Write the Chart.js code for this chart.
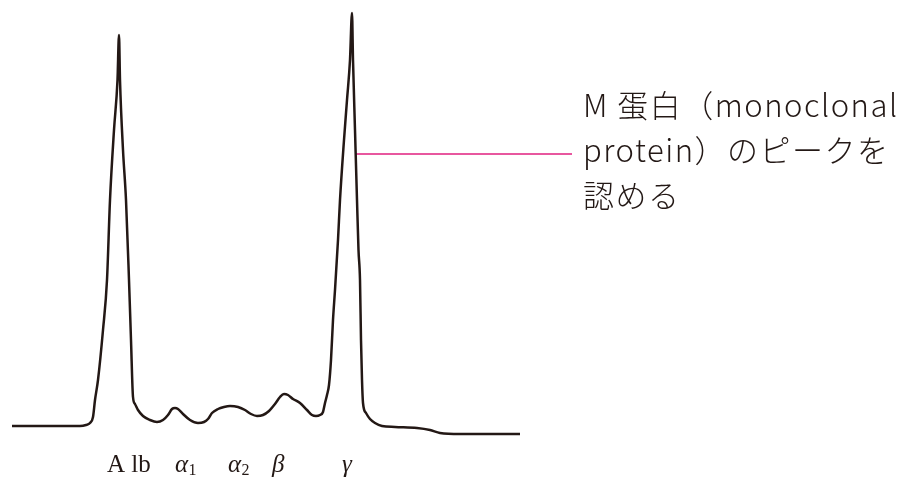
<!DOCTYPE html>
<html lang="ja">
<head>
<meta charset="utf-8">
<title>M蛋白のピーク</title>
<script src="https://cdn.jsdelivr.net/npm/chart.js@4"></script>
<style>
    html, body { margin: 0; padding: 0; background: #fff; }
    #wrap { width: 908px; height: 487px; position: relative; }
</style>
</head>
<body>
<div id="wrap"><canvas id="chart"></canvas></div>
<script>
// densitometer trace, position along the strip vs. signal height
const curveX = [12, 60, 80, 86, 90, 93, 95, 98, 103, 107, 110, 114, 117.5, 119, 120, 123, 126, 129, 131, 133,
    135, 138, 143, 150, 157, 163, 168, 172, 175, 178, 183, 190, 198, 204, 208, 212, 218, 224, 230, 238,
    245, 251, 257, 263, 269, 275, 280, 284, 288, 293, 300, 307, 312, 316, 320, 323, 325, 327, 329, 331,
    333, 335, 338, 340, 344, 347, 350, 352, 353, 355, 357, 358.5, 360, 361, 362, 363, 366, 370, 375, 382,
    395, 417, 430, 440, 460, 520];
const curveY = [61, 61, 61, 62, 64, 70, 87, 107, 157, 207, 287, 357, 407, 452, 407, 337, 287, 207, 147, 90,
    83, 77, 71, 67, 65, 67, 72, 78, 79, 78, 73, 67, 64, 65, 68, 74, 78, 80, 81, 80,
    77, 73, 71, 72, 76, 83, 90, 93, 92, 88, 84, 77, 72, 71, 72, 75, 84, 92, 102, 127,
    167, 197, 247, 287, 347, 387, 427, 474, 427, 357, 287, 237, 207, 147, 107, 84, 74, 68, 64, 61,
    60, 59, 57, 54, 53, 53];

// fraction labels under the trace
const fractionLabels = ['A lb', 'α', 'α', 'β', 'γ'];
const fractionSubs = ['', '1', '2', '', ''];
const fractionX = [107, 175, 228, 272, 342];

// leader line to the γ peak
const leaderX = [356, 572];
const leaderY = [333, 333];

const noteLines = ['M 蛋白（monoclonal', 'protein）のピークを', '認める'];

const ink = '#231815';

const labelPlugin = {
    id: 'labels',
    afterDraw(chart) {
        const ctx = chart.ctx;
        const xs = chart.scales.x;
        const ys = chart.scales.y;
        ctx.save();
        ctx.fillStyle = ink;
        ctx.textBaseline = 'alphabetic';
        ctx.textAlign = 'left';

        const base = ys.getPixelForValue(15);
        fractionLabels.forEach((lab, i) => {
            const x = xs.getPixelForValue(fractionX[i]);
            ctx.font = i === 0 ? '25px "Liberation Serif"' : 'italic 25px "Liberation Serif"';
            ctx.fillText(lab, x, base);
            if (fractionSubs[i]) {
                const w = ctx.measureText(lab).width;
                ctx.font = '16px "Liberation Serif"';
                ctx.fillText(fractionSubs[i], x + w + 0.5, base + 3);
            }
        });

        ctx.font = '300 31px "Noto Sans CJK JP"';
        ctx.letterSpacing = '1.5px';
        const tx = xs.getPixelForValue(583);
        noteLines.forEach((line, i) => {
            ctx.fillText(line, tx, 117 + i * 45);
        });
        ctx.restore();
    }
};

new Chart(document.getElementById('chart'), {
    type: 'line',
    data: {
        datasets: [{
            data: curveX.map((x, i) => ({ x: x, y: curveY[i] })),
            borderColor: ink,
            borderWidth: 2.5,
            pointRadius: 0,
            cubicInterpolationMode: 'monotone',
            fill: false
        }, {
            data: leaderX.map((x, i) => ({ x: x, y: leaderY[i] })),
            borderColor: '#e8579f',
            borderWidth: 2,
            pointRadius: 0,
            tension: 0,
            fill: false
        }]
    },
    options: {
        responsive: true,
        maintainAspectRatio: false,
        animation: false,
        layout: { padding: 0 },
        plugins: {
            legend: { display: false },
            tooltip: { enabled: false }
        },
        scales: {
            x: { type: 'linear', min: 0, max: 908, display: false },
            y: { min: 0, max: 487, display: false }
        }
    },
    plugins: [labelPlugin]
});
</script>
</body>
</html>
